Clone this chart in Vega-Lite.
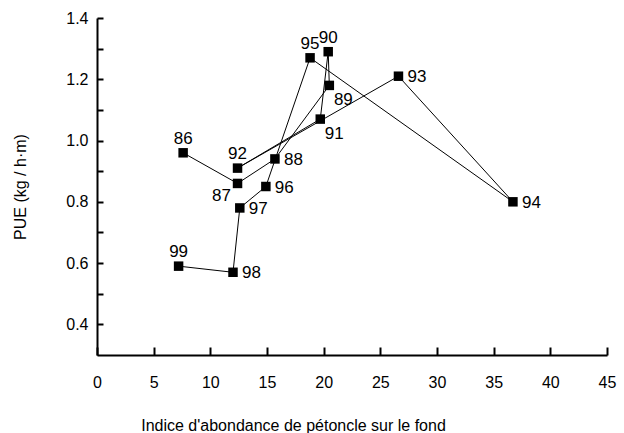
{
  "$schema": "https://vega.github.io/schema/vega-lite/v6.json",
  "autosize": "none",
  "width": 510,
  "height": 337,
  "padding": {"left": 97, "top": 18, "right": 17, "bottom": 78},
  "background": "white",
  "config": {
    "view": {"stroke": null},
    "font": "Liberation Sans",
    "axis": {
      "grid": false,
      "domainColor": "black",
      "domainWidth": 2,
      "tickColor": "black",
      "tickWidth": 2,
      "labelFont": "Liberation Sans",
      "labelFontSize": 16,
      "labelColor": "black",
      "titleFont": "Liberation Sans",
      "titleFontSize": 16,
      "titleFontWeight": "normal",
      "titleColor": "black"
    }
  },
  "data": {
    "values": [
      {"year": 86, "x": 7.6, "y": 0.96},
      {"year": 87, "x": 12.4, "y": 0.86},
      {"year": 88, "x": 15.7, "y": 0.94},
      {"year": 89, "x": 20.5, "y": 1.18},
      {"year": 90, "x": 20.4, "y": 1.29},
      {"year": 91, "x": 19.7, "y": 1.07},
      {"year": 92, "x": 12.4, "y": 0.91},
      {"year": 93, "x": 26.6, "y": 1.21},
      {"year": 94, "x": 36.7, "y": 0.80},
      {"year": 95, "x": 18.8, "y": 1.27},
      {"year": 96, "x": 14.9, "y": 0.85},
      {"year": 97, "x": 12.6, "y": 0.78},
      {"year": 98, "x": 12.0, "y": 0.57},
      {"year": 99, "x": 7.2, "y": 0.59}
    ]
  },
  "encoding": {
    "x": {
      "field": "x", "type": "quantitative",
      "scale": {"domain": [0, 45], "nice": false, "zero": false},
      "axis": {
        "title": "Indice d'abondance de pétoncle sur le fond",
        "values": [0, 5, 10, 15, 20, 25, 30, 35, 40, 45],
        "tickSize": -8,
        "labelPadding": 27,
        "labelFlush": false,
        "titleX": 196,
        "titleY": 70,
        "titleAnchor": null,
        "titleAlign": "center",
        "titleBaseline": "middle"
      }
    },
    "y": {
      "field": "y", "type": "quantitative",
      "scale": {"domain": [0.3, 1.4], "nice": false, "zero": false},
      "axis": {
        "title": "PUE (kg / h·m)",
        "values": [0.4, 0.5, 0.6, 0.7, 0.8, 0.9, 1.0, 1.1, 1.2, 1.3, 1.4],
        "labelExpr": "round(datum.value * 10) % 2 == 0 ? format(datum.value, '.1f') : ''",
        "tickSize": -6,
        "labelPadding": 15,
        "labelFlush": false,
        "titleX": -77,
        "titleAngle": 270,
        "titleBaseline": "middle"
      }
    }
  },
  "layer": [
    {
      "mark": {"type": "line", "color": "black", "strokeWidth": 1},
      "encoding": {"order": {"field": "year", "type": "quantitative"}}
    },
    {
      "mark": {"type": "point", "shape": "square", "filled": true, "color": "black", "size": 90, "opacity": 1}
    },
    {
      "transform": [{"filter": {"field": "year", "oneOf": [86, 92, 95, 90, 99]}}],
      "mark": {"type": "text", "dy": -14, "align": "center", "baseline": "middle", "fontSize": 17, "font": "Liberation Sans", "color": "black"},
      "encoding": {"text": {"field": "year", "type": "nominal"}}
    },
    {
      "transform": [{"filter": {"field": "year", "oneOf": [88, 96, 97, 98, 93, 94]}}],
      "mark": {"type": "text", "dx": 9, "dy": 1, "align": "left", "baseline": "middle", "fontSize": 17, "font": "Liberation Sans", "color": "black"},
      "encoding": {"text": {"field": "year", "type": "nominal"}}
    },
    {
      "transform": [{"filter": {"field": "year", "oneOf": [89, 91]}}],
      "mark": {"type": "text", "dx": 14, "dy": 15, "align": "center", "baseline": "middle", "fontSize": 17, "font": "Liberation Sans", "color": "black"},
      "encoding": {"text": {"field": "year", "type": "nominal"}}
    },
    {
      "transform": [{"filter": {"field": "year", "oneOf": [87]}}],
      "mark": {"type": "text", "dx": -16, "dy": 13, "align": "center", "baseline": "middle", "fontSize": 17, "font": "Liberation Sans", "color": "black"},
      "encoding": {"text": {"field": "year", "type": "nominal"}}
    }
  ]
}
